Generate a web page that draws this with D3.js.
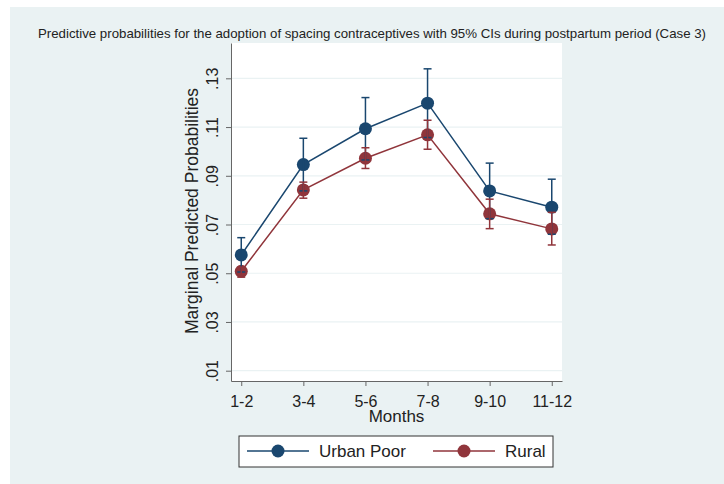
<!DOCTYPE html>
<html>
<head>
<meta charset="utf-8">
<script src="https://cdn.jsdelivr.net/npm/d3@7"></script>
<style>
  body { margin: 0; background: #fff; }
  text { font-family: "Liberation Sans", Arial, sans-serif; fill: #222; }
</style>
</head>
<body>
<div id="chart"></div>
<script>
// data
const months = ["1-2", "3-4", "5-6", "7-8", "9-10", "11-12"];
const yTicks = [0.01, 0.03, 0.05, 0.07, 0.09, 0.11, 0.13];
const urbanMean = [0.0575, 0.0946, 0.1093, 0.1198, 0.0838, 0.0771];
const urbanLow  = [0.0505, 0.0838, 0.0965, 0.1057, 0.0724, 0.0660];
const urbanHigh = [0.0646, 0.1054, 0.1221, 0.1339, 0.0952, 0.0886];
const ruralMean = [0.0508, 0.0842, 0.0972, 0.1068, 0.0744, 0.0682];
const ruralLow  = [0.0484, 0.0808, 0.0930, 0.1009, 0.0683, 0.0616];
const ruralHigh = [0.0525, 0.0874, 0.1015, 0.1128, 0.0804, 0.0750];
const seriesNames = ["Urban Poor", "Rural"];
const colors = ["#1a476f", "#90353b"];

const W = 724, H = 484;
const margin = {top: 43, right: 162, bottom: 103, left: 231};
const width = W - margin.left - margin.right;
const height = H - margin.top - margin.bottom;

const svg = d3.select("#chart").append("svg")
    .attr("width", W)
    .attr("height", H);

// outer panel
svg.append("rect")
    .attr("x", 10).attr("y", 7)
    .attr("width", W - 10).attr("height", H - 7)
    .attr("fill", "#eaf2f3");

svg.append("text")
    .attr("x", 372).attr("y", 38)
    .attr("text-anchor", "middle")
    .attr("textLength", 668)
    .attr("lengthAdjust", "spacingAndGlyphs")
    .style("font-size", "13px")
    .text("Predictive probabilities for the adoption of spacing contraceptives with 95% CIs during postpartum period (Case 3)");

const chart = svg.append("g")
    .attr("transform", `translate(${margin.left},${margin.top})`);

chart.append("rect")
    .attr("width", width).attr("height", height)
    .attr("fill", "#fff");

const x = d3.scalePoint()
    .domain(months)
    .range([0, width])
    .padding(0.165);

const y = d3.scaleLinear()
    .domain([0.00577, 0.1445])
    .range([height, 0]);

// gridlines
chart.selectAll(".grid")
    .data(yTicks)
    .join("line")
    .attr("class", "grid")
    .attr("x1", 0).attr("x2", width)
    .attr("y1", d => y(d)).attr("y2", d => y(d))
    .attr("stroke", "#eaf2f3")
    .attr("stroke-width", 1.2);

const fmt = d => d3.format(".2f")(d).replace(/^0/, "");

const yAxis = chart.append("g")
    .call(d3.axisLeft(y).tickValues(yTicks).tickFormat(fmt).tickSize(5).tickSizeOuter(0));
yAxis.select(".domain").attr("stroke", "#666");
yAxis.selectAll(".tick line").attr("stroke", "#666");
yAxis.selectAll(".tick text")
    .attr("transform", "rotate(-90)")
    .attr("x", 0).attr("y", -13)
    .attr("dy", 0)
    .attr("text-anchor", "middle")
    .style("font-size", "16px")
    .style("font-family", "Liberation Sans, Arial, sans-serif")
    .attr("fill", "#222");

const xAxis = chart.append("g")
    .attr("transform", `translate(0,${height})`)
    .call(d3.axisBottom(x).tickSize(5).tickSizeOuter(0).tickPadding(10));
xAxis.select(".domain").attr("stroke", "#666");
xAxis.selectAll(".tick line").attr("stroke", "#666");
xAxis.selectAll(".tick text")
    .style("font-size", "16px")
    .style("font-family", "Liberation Sans, Arial, sans-serif")
    .attr("fill", "#222");

chart.append("text")
    .attr("x", width / 2).attr("y", height + 41)
    .attr("text-anchor", "middle")
    .style("font-size", "17px")
    .text("Months");

chart.append("text")
    .attr("transform", `translate(-33,${height / 2 - 1}) rotate(-90)`)
    .attr("text-anchor", "middle")
    .style("font-size", "17.5px")
    .text("Marginal Predicted Probabilities");

const series = [
    {name: seriesNames[0], mean: urbanMean, low: urbanLow, high: urbanHigh, color: colors[0]},
    {name: seriesNames[1], mean: ruralMean, low: ruralLow, high: ruralHigh, color: colors[1]}
];

const line = d3.line()
    .x((d, i) => x(months[i]))
    .y(d => y(d));

// lines, drawn first so markers and bars sit on top
series.forEach(s => {
    chart.append("path")
        .datum(s.mean)
        .attr("d", line)
        .attr("fill", "none")
        .attr("stroke", s.color)
        .attr("stroke-width", 1.5);
});

series.forEach(s => {
    const g = chart.append("g");
    g.selectAll("circle")
        .data(s.mean)
        .join("circle")
        .attr("cx", (d, i) => x(months[i]))
        .attr("cy", d => y(d))
        .attr("r", 6.5)
        .attr("fill", s.color);
});

// CI bars
series.forEach(s => {
    const g = chart.append("g").attr("stroke", s.color).attr("stroke-width", 1.5);
    months.forEach((m, i) => {
        const cx = x(m);
        g.append("line").attr("x1", cx).attr("x2", cx).attr("y1", y(s.low[i])).attr("y2", y(s.high[i]));
        g.append("line").attr("x1", cx - 4).attr("x2", cx + 4).attr("y1", y(s.low[i])).attr("y2", y(s.low[i]));
        g.append("line").attr("x1", cx - 4).attr("x2", cx + 4).attr("y1", y(s.high[i])).attr("y2", y(s.high[i]));
    });
});

// legend
const legend = svg.append("g");
legend.append("rect")
    .attr("x", 239).attr("y", 436)
    .attr("width", 314).attr("height", 31)
    .attr("fill", "#fff")
    .attr("stroke", "#333")
    .attr("stroke-width", 1);

const legendX = [247, 433];
const legendTextX = [319, 505];
series.forEach((s, i) => {
    legend.append("line")
        .attr("x1", legendX[i]).attr("x2", legendX[i] + 62)
        .attr("y1", 451).attr("y2", 451)
        .attr("stroke", s.color).attr("stroke-width", 1.5);
    legend.append("circle")
        .attr("cx", legendX[i] + 31).attr("cy", 451)
        .attr("r", 6.5).attr("fill", s.color);
    legend.append("text")
        .attr("x", legendTextX[i]).attr("y", 457)
        .style("font-size", "17px")
        .text(s.name);
});
</script>
</body>
</html>
